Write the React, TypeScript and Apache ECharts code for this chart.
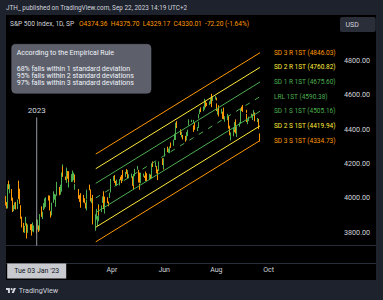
import React, { useEffect, useRef } from "react";
import * as echarts from "echarts";

// ---------- data ----------
const dates = [
  "2022-11-25","2022-11-28","2022-11-29","2022-11-30",
  "2022-12-01","2022-12-02","2022-12-05","2022-12-06","2022-12-07","2022-12-08","2022-12-09","2022-12-12","2022-12-13","2022-12-14","2022-12-15","2022-12-16","2022-12-19","2022-12-20","2022-12-21","2022-12-22","2022-12-23","2022-12-27","2022-12-28","2022-12-29","2022-12-30",
  "2023-01-03","2023-01-04","2023-01-05","2023-01-06","2023-01-09","2023-01-10","2023-01-11","2023-01-12","2023-01-13","2023-01-17","2023-01-18","2023-01-19","2023-01-20","2023-01-23","2023-01-24","2023-01-25","2023-01-26","2023-01-27","2023-01-30","2023-01-31",
  "2023-02-01","2023-02-02","2023-02-03","2023-02-06","2023-02-07","2023-02-08","2023-02-09","2023-02-10","2023-02-13","2023-02-14","2023-02-15","2023-02-16","2023-02-17","2023-02-21","2023-02-22","2023-02-23","2023-02-24","2023-02-27","2023-02-28",
  "2023-03-01","2023-03-02","2023-03-03","2023-03-06","2023-03-07","2023-03-08","2023-03-09","2023-03-10","2023-03-13","2023-03-14","2023-03-15","2023-03-16","2023-03-17","2023-03-20","2023-03-21","2023-03-22","2023-03-23","2023-03-24","2023-03-27","2023-03-28","2023-03-29","2023-03-30","2023-03-31",
  "2023-04-03","2023-04-04","2023-04-05","2023-04-06","2023-04-10","2023-04-11","2023-04-12","2023-04-13","2023-04-14","2023-04-17","2023-04-18","2023-04-19","2023-04-20","2023-04-21","2023-04-24","2023-04-25","2023-04-26","2023-04-27","2023-04-28",
  "2023-05-01","2023-05-02","2023-05-03","2023-05-04","2023-05-05","2023-05-08","2023-05-09","2023-05-10","2023-05-11","2023-05-12","2023-05-15","2023-05-16","2023-05-17","2023-05-18","2023-05-19","2023-05-22","2023-05-23","2023-05-24","2023-05-25","2023-05-26","2023-05-30","2023-05-31",
  "2023-06-01","2023-06-02","2023-06-05","2023-06-06","2023-06-07","2023-06-08","2023-06-09","2023-06-12","2023-06-13","2023-06-14","2023-06-15","2023-06-16","2023-06-20","2023-06-21","2023-06-22","2023-06-23","2023-06-26","2023-06-27","2023-06-28","2023-06-29","2023-06-30",
  "2023-07-03","2023-07-05","2023-07-06","2023-07-07","2023-07-10","2023-07-11","2023-07-12","2023-07-13","2023-07-14","2023-07-17","2023-07-18","2023-07-19","2023-07-20","2023-07-21","2023-07-24","2023-07-25","2023-07-26","2023-07-27","2023-07-28","2023-07-31",
  "2023-08-01","2023-08-02","2023-08-03","2023-08-04","2023-08-07","2023-08-08","2023-08-09","2023-08-10","2023-08-11","2023-08-14","2023-08-15","2023-08-16","2023-08-17","2023-08-18","2023-08-21","2023-08-22","2023-08-23","2023-08-24","2023-08-25","2023-08-28","2023-08-29","2023-08-30","2023-08-31",
  "2023-09-01","2023-09-05","2023-09-06","2023-09-07","2023-09-08","2023-09-11","2023-09-12","2023-09-13","2023-09-14","2023-09-15","2023-09-18","2023-09-19","2023-09-20","2023-09-21",
];

const opens = [
  4023,4005,3964,3957,
  4087,4040,4052,3997,3933,3948,3954,3939,4069,4016,3958,3891,3854,3810,3839,3853,3815,3843,3830,3805,3829,
  3853,3840,3840,3823,3911,3889,3932,3978,3961,3999,4002,3912,3909,3978,4002,3983,4036,4054,4049,4021,
  4070,4159,4137,4120,4105,4153,4144,4069,4097,4127,4120,4115,4077,4052,4002,4019,3973,3992,3977,
  3963,3939,3998,4055,4048,3988,3999,3913,3835,3894,3877,3879,3959,3917,3976,4002,3959,3939,3983,3974,4000,4047,4056,
  4102,4128,4095,4081,4085,4110,4122,4100,4140,4137,4164,4139,4130,4132,4132,4126,4088,4075,4130,
  4167,4164,4122,4083,4085,4137,4124,4144,4132,4139,4127,4128,4123,4158,4204,4191,4177,4133,4156,4156,4227,4191,
  4183,4241,4283,4271,4285,4269,4305,4308,4353,4366,4365,4441,4396,4380,4355,4354,4345,4337,4367,4375,4422,
  4450,4442,4423,4405,4394,4416,4468,4492,4515,4509,4522,4564,4554,4550,4543,4555,4559,4598,4566,4585,
  4579,4551,4494,4514,4492,4498,4502,4487,4451,4458,4479,4434,4416,4345,4380,4415,4396,4455,4389,4426,4433,4500,4517,
  4531,4510,4490,4435,4451,4481,4473,4463,4488,4498,4445,4445,4453,4374.36,
];

const highs = [
  4034,4012,3977,4080,
  4101,4080,4052,4002,3958,3974,3977,3991,4101,4054,3958,3891,3855,3838,3890,3853,3846,3847,3848,3858,3840,
  3878,3873,3840,3906,3951,3920,3970,3998,4004,4015,4014,3923,3973,4039,4024,4020,4062,4094,4064,4077,
  4149,4195,4182,4125,4177,4157,4156,4094,4139,4160,4148,4137,4082,4052,4017,4028,3978,4018,3998,
  3972,3991,4048,4078,4050,4000,4018,3934,3905,3937,3894,3964,3959,3957,4009,4039,4008,3973,4004,3979,4031,4058,4111,
  4128,4133,4100,4107,4110,4124,4134,4150,4163,4152,4169,4163,4149,4138,4142,4126,4090,4138,4170,
  4187,4164,4148,4083,4147,4142,4130,4154,4133,4144,4141,4136,4165,4202,4213,4209,4186,4133,4166,4213,4231,4195,
  4232,4291,4299,4288,4299,4298,4323,4340,4375,4392,4439,4448,4400,4386,4382,4367,4362,4384,4390,4398,4458,
  4456,4454,4423,4440,4413,4444,4488,4517,4528,4533,4562,4578,4565,4555,4563,4581,4582,4607,4590,4594,
  4585,4551,4519,4540,4520,4503,4502,4527,4476,4490,4479,4450,4421,4382,4408,4419,4443,4458,4418,4440,4500,4522,4532,
  4541,4514,4490,4458,4474,4491,4487,4479,4512,4498,4466,4450,4461,4375.70,
];

const lows = [
  4021,3956,3938,3939,
  4051,4027,3984,3918,3923,3936,3933,3935,3993,3966,3879,3828,3800,3796,3839,3764,3797,3813,3781,3805,3800,
  3794,3816,3802,3810,3890,3877,3929,3938,3948,3985,3927,3886,3898,3972,3990,3949,4013,4049,4016,4020,
  4037,4142,4123,4104,4088,4112,4070,4061,4093,4095,4104,4089,4048,3995,3977,3969,3943,3974,3969,
  3939,3928,3995,4045,3980,3970,3909,3846,3809,3874,3838,3864,3901,3917,3971,3936,3919,3909,3970,3952,4000,4032,4056,
  4099,4087,4073,4070,4073,4103,4087,4099,4113,4123,4140,4134,4115,4114,4118,4071,4049,4075,4127,
  4164,4090,4089,4048,4085,4124,4117,4099,4109,4099,4110,4110,4114,4154,4180,4180,4143,4104,4130,4156,4192,4166,
  4172,4241,4267,4263,4264,4261,4292,4304,4338,4338,4363,4407,4367,4360,4352,4341,4328,4335,4360,4372,4422,
  4442,4437,4385,4397,4390,4408,4463,4489,4500,4505,4515,4557,4528,4536,4541,4552,4548,4529,4564,4573,
  4568,4506,4486,4475,4491,4464,4461,4458,4444,4453,4432,4404,4365,4335,4360,4383,4396,4376,4356,4415,4432,4494,4507,
  4501,4496,4442,4430,4448,4468,4457,4454,4479,4447,4442,4417,4401,4329.17,
];

const closes = [
  4026,3964,3958,4080,
  4077,4072,3999,3941,3934,3964,3934,3991,4020,3995,3896,3852,3818,3822,3878,3822,3845,3829,3783,3849,3840,
  3824,3853,3808,3895,3892,3919,3970,3983,3999,3991,3929,3899,3973,4020,4017,4016,4060,4071,4018,4077,
  4119,4180,4136,4111,4164,4118,4082,4090,4137,4136,4148,4090,4079,3997,3991,4012,3970,3982,3970,
  3951,3981,4046,4048,3986,3992,3918,3862,3856,3919,3892,3960,3917,3952,4003,3937,3949,3971,3978,3971,4028,4051,4109,
  4125,4101,4090,4105,4109,4109,4092,4146,4138,4151,4155,4155,4130,4134,4137,4072,4056,4135,4169,
  4168,4120,4091,4061,4136,4138,4119,4138,4131,4124,4136,4110,4159,4198,4192,4193,4146,4115,4151,4205,4206,4180,
  4221,4282,4274,4284,4268,4294,4299,4339,4369,4373,4426,4410,4389,4366,4382,4348,4329,4378,4377,4396,4450,
  4456,4447,4412,4399,4410,4439,4472,4510,4505,4523,4555,4566,4535,4536,4555,4567,4567,4537,4582,4589,
  4577,4513,4502,4478,4518,4499,4468,4469,4464,4490,4438,4404,4370,4370,4400,4388,4436,4376,4406,4433,4498,4515,4508,
  4516,4497,4465,4451,4457,4487,4462,4467,4505,4450,4454,4444,4402,4330.01,
];

const channelNames = ["SD 3 R 1ST", "SD 2 R 1ST", "SD 1 R 1ST", "LRL 1ST", "SD 1 S 1ST", "SD 2 S 1ST", "SD 3 S 1ST"];
const channelStart = [4255.7, 4170.4, 4085.2, 4000.0, 3914.8, 3829.6, 3744.3];
const channelEnd = [4846.03, 4760.82, 4675.6, 4590.38, 4505.16, 4419.94, 4334.73];
const channelDates = ["2023-03-13", "2023-09-21"];

const priceTicks = [3800, 4000, 4200, 4400, 4600, 4800];
const monthTicks = ["2023-04-01", "2023-06-01", "2023-08-01", "2023-10-01"];
const monthLabels = ["Apr", "Jun", "Aug", "Oct"];

const markerDate = "2023-01-03";
const markerTop = 4470;
const markerText = "2023";
const markerAxisText = "Tue 03 Jan '23";
const lastPrice = 4330.01;

const headerText = "JTH_ published on TradingView.com, Sep 22, 2023 14:19 UTC+2";
const symbolText = "S&P 500 Index, 1D, SP";
const ohlcText = "O4374.36  H4375.70  L4329.17  C4330.01  -72.20 (-1.64%)";
const noteTitle = "According to the Empirical Rule";
const noteLines = [
  "68% falls within 1 standard deviation",
  "95% falls within 2 standard deviations",
  "97% falls within 3 standard deviations",
];

// ---------- styles ----------
const FONT = "Roboto, 'Noto Sans', sans-serif";
const UP = "#4caf50";
const DOWN = "#ff9800";
const ORANGE = "#ff9800";
const YELLOW = "#ffeb3b";
const GREEN = "#4caf50";
const channelColors = [ORANGE, YELLOW, GREEN, GREEN, GREEN, YELLOW, ORANGE];
const channelDashed = [false, false, false, true, false, false, false];
const TEXT = "#d1d4dc";

const DAY = 86400000;
const ts = (s: string) => {
  const [y, m, d] = s.split("-").map(Number);
  return new Date(y, m - 1, d).getTime();
};

echarts.graphic.registerShape(
  "tvlogo",
  echarts.graphic.extendPath("M14 22H7V11H0V4h14v18zM28 22h-8l7.5-18h8L28 22z", {})
);

export default function App() {
  const ref = useRef<HTMLDivElement>(null);

  useEffect(() => {
    document.body.style.margin = "0";
    if (!ref.current) return;
    const chart = echarts.init(ref.current, undefined, { renderer: "svg" });

    const anchor = ts(markerDate);
    const xMin = anchor - 35.9 * DAY;
    const xMax = anchor + 352.2 * DAY;
    const yMin = 3722;
    const yMax = 5066;

    const candleData = dates.map((d, i) => [ts(d), opens[i], closes[i], lows[i], highs[i]]);
    const monthTs = monthTicks.map(ts);

    const channelSeries = channelNames.map((name, i) => ({
      type: "line",
      name,
      data: [
        [ts(channelDates[0]), channelStart[i]],
        [ts(channelDates[1]), channelEnd[i]],
      ],
      symbol: "none",
      silent: true,
      z: 3,
      lineStyle: {
        color: channelColors[i],
        width: 1,
        type: channelDashed[i] ? [5, 6] : "solid",
      },
      endLabel: {
        show: true,
        distance: 14,
        formatter: () => `${name} (${channelEnd[i].toFixed(2)})`,
        color: channelColors[i],
        fontSize: 6.5,
        fontFamily: FONT,
      },
    }));

    const option: any = {
      animation: false,
      backgroundColor: "#1e222d",
      grid: { left: 6, right: 45, top: 15, bottom: 54.3, containLabel: false },
      xAxis: {
        type: "value",
        min: xMin,
        max: xMax,
        axisLine: { show: false },
        axisTick: { show: false },
        splitLine: { show: false },
        axisLabel: {
          customValues: monthTs,
          formatter: (v: number) => {
            let best = 0;
            monthTs.forEach((m, i) => {
              if (Math.abs(m - v) < Math.abs(monthTs[best] - v)) best = i;
            });
            return monthLabels[best];
          },
          color: TEXT,
          fontSize: 7,
          fontFamily: FONT,
          margin: 21,
        },
      },
      yAxis: {
        type: "value",
        position: "right",
        min: yMin,
        max: yMax,
        axisLine: { show: false },
        axisTick: { show: false },
        splitLine: { show: false },
        axisLabel: {
          customValues: priceTicks,
          formatter: (v: number) => v.toFixed(2),
          color: TEXT,
          fontSize: 7.2,
          fontFamily: FONT,
          margin: 6,
        },
      },
      series: [
        {
          type: "candlestick",
          data: candleData,
          encode: { x: 0, y: [1, 2, 3, 4] },
          barWidth: 1,
          z: 2,
          itemStyle: {
            color: UP,
            color0: DOWN,
            borderColor: UP,
            borderColor0: DOWN,
            borderWidth: 1,
          },
          markLine: {
            silent: true,
            symbol: "none",
            lineStyle: { opacity: 0 },
            data: [{ yAxis: lastPrice }],
            label: {
              show: true,
              position: "end",
              distance: 1,
              formatter: lastPrice.toFixed(2),
              color: "#000",
              backgroundColor: YELLOW,
              padding: [1.5, 4, 1, 4],
              fontSize: 7.2,
              fontFamily: FONT,
            },
          },
        },
        ...channelSeries,
        {
          type: "line",
          data: [
            {
              value: [anchor, markerTop],
              label: {
                show: true,
                position: "top",
                distance: 3,
                formatter: markerText,
                color: TEXT,
                fontSize: 8,
                fontFamily: FONT,
              },
            },
            { value: [anchor, yMin] },
          ],
          symbol: "circle",
          symbolSize: 0,
          showSymbol: true,
          silent: true,
          z: 4,
          lineStyle: { color: "#9598a1", width: 1 },
        },
      ],
    };
    chart.setOption(option);

    const ax = chart.convertToPixel({ xAxisIndex: 0 }, anchor) as number;

    const elements: any[] = [
      { type: "rect", z: -10, silent: true, shape: { x: 6, y: 15, width: 370, height: 265 }, style: { fill: "#000" } },
      { type: "line", z: -5, silent: true, shape: { x1: 6, y1: 245.5, x2: 376, y2: 245.5 }, style: { stroke: "#2a2e39", lineWidth: 1 } },
      { type: "line", z: -5, silent: true, shape: { x1: 6, y1: 263.5, x2: 376, y2: 263.5 }, style: { stroke: "#2a2e39", lineWidth: 1 } },
      { type: "text", z: 50, x: 6, y: 7.5, style: { text: headerText, fill: TEXT, fontSize: 6.4, fontFamily: FONT, verticalAlign: "middle" } },
      { type: "text", z: 50, x: 10, y: 24.3, style: { text: symbolText, fill: TEXT, fontSize: 6.6, fontFamily: FONT, verticalAlign: "middle" } },
      { type: "text", z: 50, x: 79, y: 24.3, style: { text: ohlcText, fill: ORANGE, fontSize: 6.6, fontFamily: FONT, verticalAlign: "middle" } },
      { type: "rect", z: 50, shape: { x: 340, y: 17, width: 35.7, height: 15, r: 2 }, style: { fill: "#2a2e39" } },
      { type: "text", z: 51, x: 345.5, y: 24.5, style: { text: "USD", fill: TEXT, fontSize: 7, fontFamily: FONT, verticalAlign: "middle" } },
      { type: "rect", z: 60, shape: { x: 11.7, y: 44.3, width: 139.3, height: 49, r: 4 }, style: { fill: "#5d606b", stroke: "#6a6d78", lineWidth: 0.5 } },
      { type: "text", z: 61, x: 16.7, y: 53.3, style: { text: noteTitle, fill: "#f0f3fa", fontSize: 7, fontFamily: FONT, verticalAlign: "middle" } },
      ...noteLines.map((t, i) => ({
        type: "text", z: 61, x: 16.7, y: 69 + i * 7.2,
        style: { text: t, fill: "#f0f3fa", fontSize: 7, fontFamily: FONT, verticalAlign: "middle" },
      })),
      { type: "rect", z: 60, shape: { x: ax - 29.5, y: 263.5, width: 59, height: 15 }, style: { fill: "#c8cad0" } },
      { type: "text", z: 61, x: ax, y: 271, style: { text: markerAxisText, fill: "#131722", fontSize: 7, fontFamily: FONT, align: "center", verticalAlign: "middle" } },
      { type: "tvlogo", z: 60, x: 6, y: 286.9, scaleX: 0.28, scaleY: 0.28, style: { fill: TEXT } },
      { type: "circle", z: 60, shape: { cx: 6 + 20 * 0.28, cy: 286.9 + 8 * 0.28, r: 4 * 0.28 }, style: { fill: TEXT } },
      { type: "text", z: 60, x: 18.7, y: 290.7, style: { text: "TradingView", fill: TEXT, fontSize: 7.2, fontFamily: FONT, verticalAlign: "middle" } },
    ];
    chart.setOption({ graphic: { elements } });

    return () => chart.dispose();
  }, []);

  return <div ref={ref} style={{ width: 383, height: 300 }} />;
}
